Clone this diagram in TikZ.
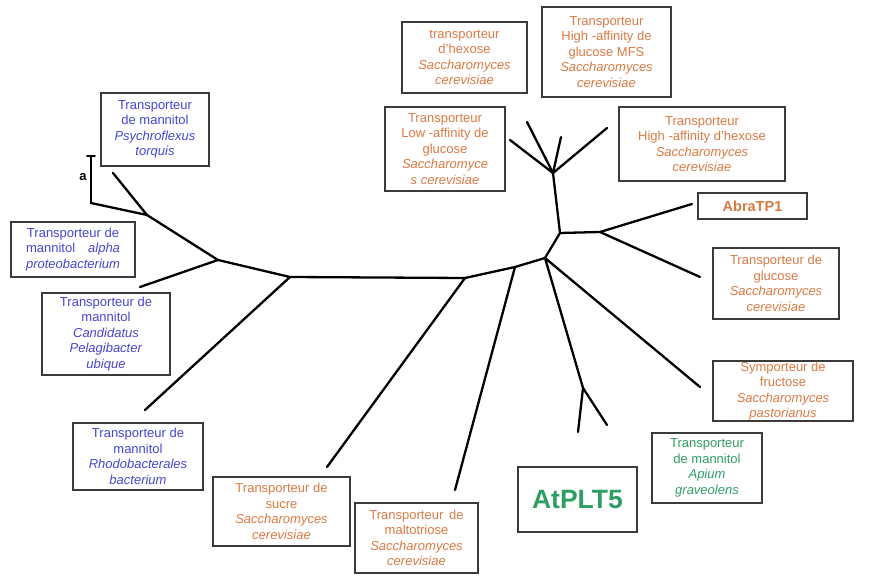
\documentclass[tikz,border=0pt]{standalone}
\usepackage{fontspec}
\setmainfont{Liberation Sans}
\usepackage{tikz}
\definecolor{tline}{HTML}{000000}
\definecolor{bline}{HTML}{3A3A3A}
\definecolor{tblue}{HTML}{4646D2}
\definecolor{torange}{HTML}{DA7A45}
\definecolor{tgreen}{HTML}{2F9E62}
\tikzset{
  bx/.style 2 args = {draw=bline, fill=white, line width=1.8pt, inner sep=1pt,
               minimum width=#1, minimum height=#2, align=center,
               font=\fontsize{13}{15.5}\selectfont},
  bb/.style = {text=tblue},
  bo/.style = {text=torange},
  bg/.style = {text=tgreen},
  br/.style = {draw=tline, line width=2.3pt, line cap=round, line join=round},
}

\begin{document}
\begin{tikzpicture}[x=1pt,y=-1pt]
\useasboundingbox (0,0) rectangle (870,577);

% ---- tree: inner points
\coordinate (na) at (147,215);
\coordinate (nb) at (218,260);
\coordinate (nc) at (290,277);
\coordinate (nd) at (465,278);
\coordinate (ne) at (515,267);
\coordinate (nf) at (545,258);
\coordinate (ng) at (560,233);
\coordinate (nh) at (553,173);
\coordinate (ni) at (600,232);
\coordinate (nj) at (583,388);

% ---- tree: leaf ends
\coordinate (lpsy)   at (113,173);
\coordinate (lbar)   at (91,203);
\coordinate (lalpha) at (140,287);
\coordinate (lrhodo) at (145,410);
\coordinate (lsucre) at (327,467);
\coordinate (lmalto) at (455,490);
\coordinate (lh1)    at (510,140);
\coordinate (lh2)    at (527,122);
\coordinate (lh3)    at (561,137);
\coordinate (lh4)    at (607,128);
\coordinate (labra)  at (692,204);
\coordinate (lgluc)  at (700,277);
\coordinate (lfruc)  at (700,387);
\coordinate (lj1)    at (578,432);
\coordinate (lj2)    at (607,425);

% ---- scale bar
\coordinate (sbt) at (91,156);
\draw[br] (sbt) -- (lbar);
\draw[br, line width=1.6pt] ([xshift=-4]sbt) -- ([xshift=4]sbt);
\node[font=\bfseries\fontsize{13}{14}\selectfont, inner sep=0pt] (sbl) at (83,177) {a};

% ---- branches
\draw[br] (lbar) -- (na) -- (lpsy);
\draw[br] (na) -- (nb) -- (lalpha);
\draw[br] (nb) -- (nc) -- (lrhodo);
\draw[br] (nc) -- (nd) -- (lsucre);
\draw[br] (nd) -- (ne) -- (lmalto);
\draw[br] (ne) -- (nf) -- (ng) -- (nh);
\draw[br] (nh) -- (lh1);
\draw[br] (nh) -- (lh2);
\draw[br] (nh) -- (lh3);
\draw[br] (nh) -- (lh4);
\draw[br] (ng) -- (ni) -- (labra);
\draw[br] (ni) -- (lgluc);
\draw[br] (nf) -- (lfruc);
\draw[br] (nf) -- (nj) -- (lj1);
\draw[br] (nj) -- (lj2);

% ---- mannitol transporters, bacteria
\node[bx={108}{73}, bb] (psy) at (155,129.5)
  {Transporteur\\de mannitol\\\textit{Psychroflexus}\\\textit{torquis}};
\node[bx={124}{55}, bb] (alpha) at (73,249.5)
  {Transporteur de\\mannitol\quad\textit{alpha}\\\textit{proteobacterium}};
\node[bx={128}{82}, bb] (cand) at (106,334)
  {Transporteur de\\mannitol\\\textit{Candidatus}\\\textit{Pelagibacter}\\\textit{ubique}};
\node[bx={130}{67}, bb] (rhodo) at (138,456.5)
  {Transporteur de\\mannitol\\\textit{Rhodobacterales}\\\textit{bacterium}};

% ---- yeast transporters
\node[bx={137}{69}, bo] (sucre) at (281.5,511.5)
  {Transporteur de\\sucre\\\textit{Saccharomyces}\\\textit{cerevisiae}};
\node[bx={123}{70}, bo] (malto) at (416.5,538)
  {Transporteur\, de\\maltotriose\\\textit{Saccharomyces}\\\textit{cerevisiae}};
\node[bx={125}{71}, bo] (hex) at (464.5,57.5)
  {transporteur\\d'hexose\\\textit{Saccharomyces}\\\textit{cerevisiae}};
\node[bx={129}{90}, bo] (higlu) at (606.5,52)
  {Transporteur\\High -affinity de\\glucose MFS\\\textit{Saccharomyces}\\\textit{cerevisiae}};
\node[bx={120}{84}, bo] (low) at (445,149)
  {Transporteur\\Low -affinity de\\glucose\\\textit{Saccharomyce}\\\textit{s cerevisiae}};
\node[bx={166}{74}, bo] (hihex) at (702,144)
  {Transporteur\\High -affinity d'hexose\\\textit{Saccharomyces}\\\textit{cerevisiae}};
\node[bx={109}{26}, bo, font=\bfseries\fontsize{14.5}{16}\selectfont] (abra) at (752.5,206) {AbraTP1};
\node[bx={126}{71}, bo] (gluc) at (776,283.5)
  {Transporteur de\\glucose\\\textit{Saccharomyces}\\\textit{cerevisiae}};
\node[bx={140}{58}, bo] (fruc) at (783,391)
  {Symporteur de\\fructose\\\textit{Saccharomyces}\\\textit{pastorianus}};

% ---- plant transporters
\node[bx={110}{70}, bg] (apium) at (707,468)
  {Transporteur\\de mannitol\\\textit{Apium}\\\textit{graveolens}};
\node[bx={119}{65}, bg, font=\bfseries\fontsize{26.5}{28}\selectfont] (atplt) at (577.5,499.5) {AtPLT5};

\end{tikzpicture}
\end{document}
